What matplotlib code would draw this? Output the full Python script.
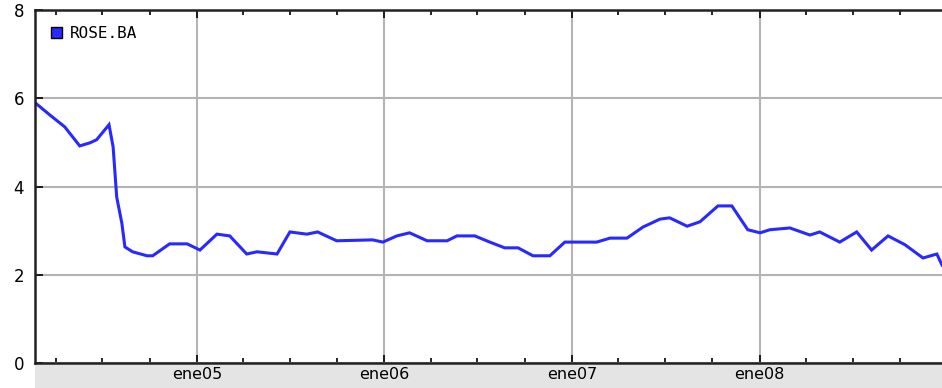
import matplotlib
matplotlib.use("Agg")
import matplotlib.pyplot as plt
import matplotlib.dates as mdates
from matplotlib.patches import Patch, Rectangle
import pandas as pd

# ROSE.BA series
dates = [
    "2004-02-21", "2004-03-21", "2004-04-19", "2004-05-18", "2004-06-07", "2004-06-20",
    "2004-07-14", "2004-07-22", "2004-07-29", "2004-08-08", "2004-08-14", "2004-08-29",
    "2004-09-26", "2004-10-07", "2004-11-09", "2004-12-13", "2005-01-07", "2005-02-09",
    "2005-03-06", "2005-04-08", "2005-04-28", "2005-06-06", "2005-07-01", "2005-08-03",
    "2005-08-24", "2005-09-30", "2005-12-09", "2005-12-29", "2006-01-25", "2006-02-19",
    "2006-03-25", "2006-05-03", "2006-05-22", "2006-06-26", "2006-07-25", "2006-08-23",
    "2006-09-18", "2006-10-17", "2006-11-19", "2006-12-18", "2007-02-18", "2007-03-16",
    "2007-04-18", "2007-05-19", "2007-06-21", "2007-07-10", "2007-08-13", "2007-09-07",
    "2007-10-12", "2007-11-08", "2007-12-09", "2008-01-02", "2008-01-21", "2008-02-29",
    "2008-04-08", "2008-04-27", "2008-06-05", "2008-07-08", "2008-08-06", "2008-09-07",
    "2008-10-10", "2008-11-14", "2008-12-11", "2008-12-21",
]
values = [
    5.90, 5.62, 5.35, 4.92, 4.99, 5.06,
    5.40, 4.90, 3.76, 3.17, 2.63, 2.52,
    2.43, 2.43, 2.70, 2.70, 2.56, 2.92,
    2.88, 2.47, 2.52, 2.47, 2.97, 2.92,
    2.97, 2.77, 2.79, 2.74, 2.88, 2.95,
    2.77, 2.77, 2.88, 2.88, 2.74, 2.61,
    2.61, 2.43, 2.43, 2.74, 2.74, 2.83,
    2.83, 3.08, 3.26, 3.29, 3.10, 3.20,
    3.56, 3.56, 3.02, 2.95, 3.02, 3.06,
    2.90, 2.97, 2.74, 2.97, 2.56, 2.88,
    2.68, 2.38, 2.47, 2.22,
]
series_name = "ROSE.BA"
year_labels = ["ene05", "ene06", "ene07", "ene08"]
year_ticks = ["2005-01-01", "2006-01-01", "2007-01-01", "2008-01-01"]
y_ticks = [0, 2, 4, 6, 8]

W, H = 942, 388
fig = plt.figure(figsize=(W / 100, H / 100), dpi=100)
left, right, top, bottom = 35, 942, 10, 363
ax = fig.add_axes([left / W, (H - bottom) / H, (right - left) / W, (bottom - top) / H])

# gray strip under the axis, drawn before the axes so the labels sit on it
fig.patches.append(Rectangle((left / W, 0), (right - left) / W, (H - bottom) / H,
                             transform=fig.transFigure, facecolor="#e4e4e4",
                             edgecolor="none", zorder=-5))

x = pd.to_datetime(dates)
blue = "#2828ff"
ax.plot(x, values, color=blue, linewidth=2.2, solid_joinstyle="miter")

ax.set_xlim(pd.Timestamp("2004-02-21"), pd.Timestamp("2008-12-21"))
ax.set_ylim(0, 8)

ax.set_xticks(pd.to_datetime(year_ticks))
ax.set_xticklabels(year_labels)
ax.xaxis.set_minor_locator(mdates.MonthLocator(bymonth=[1, 4, 7, 10]))
ax.set_yticks(y_ticks)

ax.grid(True, which="major", color="#b4b4b4", linewidth=1.5)
ax.set_axisbelow(True)

ax.tick_params(axis="x", which="major", direction="in", length=6, width=1.2,
               top=True, pad=3, labelsize=11.5, colors="black")
ax.tick_params(axis="x", which="minor", direction="in", length=3.5, width=1.2, top=True)
ax.tick_params(axis="y", direction="in", length=6, width=1.2, pad=8, labelsize=12)

for side in ["left", "top", "bottom"]:
    ax.spines[side].set_linewidth(1.8)
    ax.spines[side].set_color("#222222")
ax.spines["right"].set_visible(False)

handle = Patch(facecolor=blue, edgecolor="black", linewidth=1)
ax.legend([handle], [series_name], loc="upper left", frameon=False,
          handlelength=0.7, handleheight=0.7, handletextpad=0.5,
          borderaxespad=0.6, prop={"family": "DejaVu Sans Mono", "size": 11.5})

fig.savefig("out.png", dpi=100)
